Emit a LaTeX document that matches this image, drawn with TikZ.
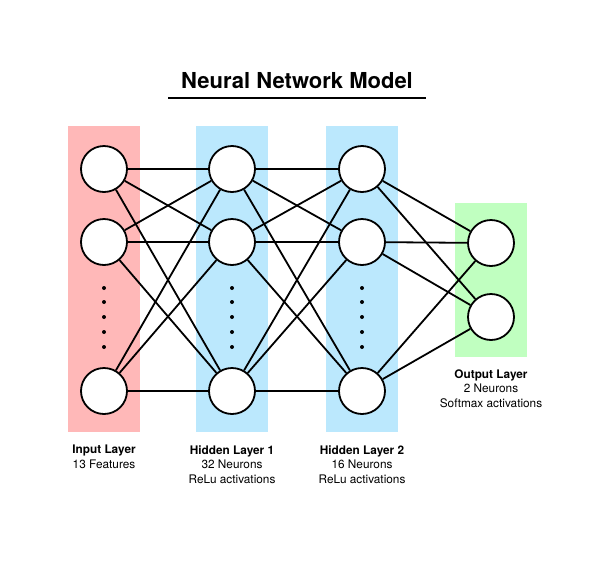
\documentclass[tikz,border=0pt]{standalone}
\usepackage{fontspec}
\setmainfont{TeX Gyre Heros}
\definecolor{inpink}{RGB}{255,184,184}
\definecolor{hidblue}{RGB}{187,232,253}
\definecolor{outgreen}{RGB}{192,255,192}
\pgfdeclarelayer{bands}
\pgfdeclarelayer{links}
\pgfsetlayers{bands,links,main}

\begin{document}
\begin{tikzpicture}[x=1pt, y=-1pt,
  neuron/.style={draw, circle, fill=white, line width=1.8pt, minimum size=46pt, inner sep=0},
  link/.style={line width=1.8pt},
  dot/.style={fill, circle, inner sep=0, minimum size=4pt},
  caption/.style={align=center, inner sep=0, font=\fontsize{11.8}{14.5}\selectfont}]
\useasboundingbox (0,0) rectangle (592,560);
% Title
\node[inner sep=0, font=\fontsize{22}{24}\selectfont\bfseries] (title) at (297,81) {Neural Network Model};
\coordinate (ul1) at (168,97.5);
\coordinate (ul2) at (426,97.5);
\draw[line width=2pt] (ul1) -- (ul2);
% Layer bands
\begin{pgfonlayer}{bands}
\fill[inpink] (68,126) rectangle (140,432);
\fill[hidblue] (196,126) rectangle (268,432);
\fill[hidblue] (326,126) rectangle (398,432);
\fill[outgreen] (455,203) rectangle (527,357);
\end{pgfonlayer}
% Neurons
\node[neuron] (i1) at (104,169) {};
\node[neuron] (i2) at (104,242) {};
\node[neuron] (i3) at (104,391) {};
\node[neuron] (h1) at (232,169) {};
\node[neuron] (h2) at (232,242) {};
\node[neuron] (h3) at (232,391) {};
\node[neuron] (k1) at (362,169) {};
\node[neuron] (k2) at (362,242) {};
\node[neuron] (k3) at (362,391) {};
\node[neuron] (o1) at (491,243) {};
\node[neuron] (o2) at (491,317) {};
% Dots
\path (104,288) node[dot] (di1) {} (104,302) node[dot] (di2) {} (104,317) node[dot] (di3) {} (104,332) node[dot] (di4) {} (104,347) node[dot] (di5) {};
\path (232,288) node[dot] (dh1) {} (232,302) node[dot] (dh2) {} (232,317) node[dot] (dh3) {} (232,332) node[dot] (dh4) {} (232,347) node[dot] (dh5) {};
\path (362,288) node[dot] (dk1) {} (362,302) node[dot] (dk2) {} (362,317) node[dot] (dk3) {} (362,332) node[dot] (dk4) {} (362,347) node[dot] (dk5) {};
% Links
\begin{pgfonlayer}{links}
\draw[link] (i1) -- (h1) (i1) -- (h2) (i1) -- (h3);
\draw[link] (i2) -- (h1) (i2) -- (h2) (i2) -- (h3);
\draw[link] (i3) -- (h1) (i3) -- (h2) (i3) -- (h3);
\draw[link] (h1) -- (k1) (h1) -- (k2) (h1) -- (k3);
\draw[link] (h2) -- (k1) (h2) -- (k2) (h2) -- (k3);
\draw[link] (h3) -- (k1) (h3) -- (k2) (h3) -- (k3);
\draw[link] (k1) -- (o1) (k1) -- (o2);
\draw[link] (k2) -- (o1) (k2) -- (o2);
\draw[link] (k3) -- (o1) (k3) -- (o2);
\end{pgfonlayer}
% Captions
\node[caption] (capi) at (104,457) {\textbf{Input Layer}\\13 Features};
\node[caption] (caph) at (232,464.5) {\textbf{Hidden Layer 1}\\32 Neurons\\ReLu activations};
\node[caption] (capk) at (362,464.5) {\textbf{Hidden Layer 2}\\16 Neurons\\ReLu activations};
\node[caption] (capo) at (491,388.5) {\textbf{Output Layer}\\2 Neurons\\Softmax activations};
\end{tikzpicture}
\end{document}
